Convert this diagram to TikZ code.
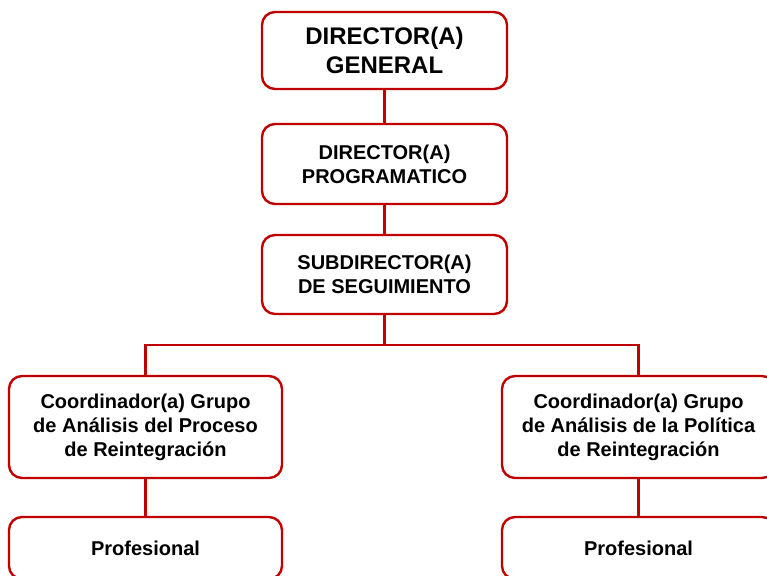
\documentclass[tikz,border=0pt]{standalone}
\usepackage{fontspec}
\setmainfont{Liberation Sans}
\definecolor{boxred}{HTML}{C00000}
\begin{document}
\begin{tikzpicture}[x=1pt,y=-1pt,
  orgbox/.style={draw=boxred, line width=2.4pt, rounded corners=13pt, fill=white,
    align=center, inner sep=0pt, font=\bfseries\fontsize{20}{24}\selectfont},
  topbox/.style={orgbox, minimum width=245pt, font=\bfseries\fontsize{24}{29}\selectfont},
  midbox/.style={orgbox, minimum width=245pt},
  coordbox/.style={orgbox, minimum width=273pt, minimum height=102pt},
  profbox/.style={orgbox, minimum width=273pt, minimum height=62pt},
  link/.style={draw=boxred, line width=2.4pt}]
\useasboundingbox (0,0) rectangle (767,575);
\begin{scope}
\clip (0,0) rectangle (767,575);
\node[topbox, minimum height=77pt] (dg) at (384.5,50.5) {DIRECTOR(A)\\GENERAL};
\node[midbox, minimum height=80pt] (dp) at (384.5,164) {DIRECTOR(A)\\PROGRAMATICO};
\node[midbox, minimum height=79pt] (sd) at (384.5,274.5) {SUBDIRECTOR(A)\\DE SEGUIMIENTO};
\node[coordbox] (cl) at (145.5,427) {Coordinador(a) Grupo\\de Análisis del Proceso\\de Reintegración};
\node[coordbox] (cr) at (638.5,427) {Coordinador(a) Grupo\\de Análisis de la Política\\de Reintegración};
\node[profbox] (pl) at (145.5,548) {Profesional};
\node[profbox] (pr) at (638.5,548) {Profesional};
\coordinate (bus) at (384.5,345);
\draw[link] (dg.south) -- (dp.north);
\draw[link] (dp.south) -- (sd.north);
\draw[link] (sd.south) -- (bus);
\draw[link] (cl.north) |- (bus) -| (cr.north);
\draw[link] (cl.south) -- (pl.north);
\draw[link] (cr.south) -- (pr.north);
\end{scope}
\end{tikzpicture}
\end{document}
